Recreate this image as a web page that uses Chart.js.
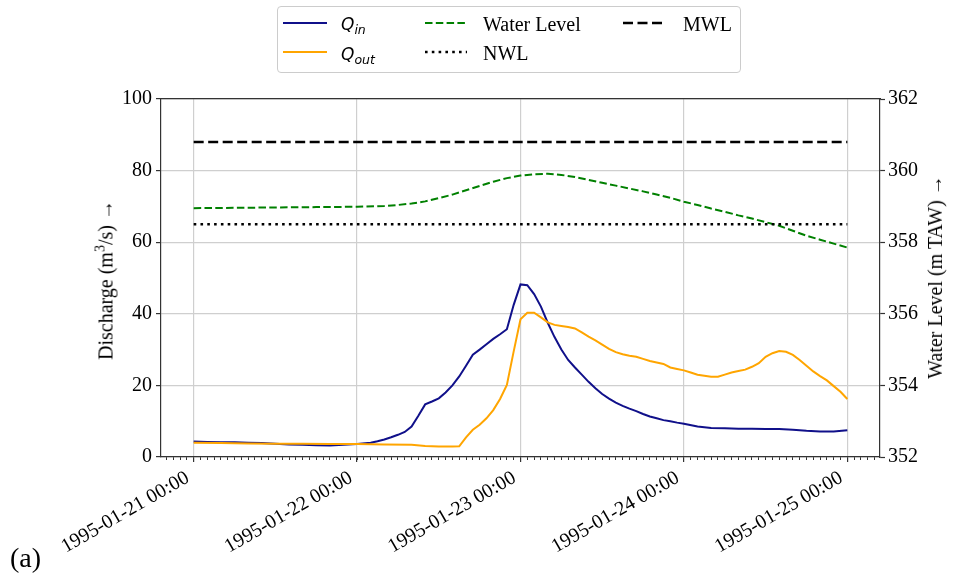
<!DOCTYPE html>
<html>
<head>
<meta charset="utf-8">
<title>Reservoir discharge and water level, 21–25 January 1995</title>
<script src="https://cdn.jsdelivr.net/npm/chart.js@4.4.1/dist/chart.umd.min.js"></script>
<style>
  html, body { margin: 0; padding: 0; background: #fff; }
  #wrap { position: relative; width: 954px; height: 577px; overflow: hidden;
          font-family: "Liberation Serif", "Times New Roman", serif; color: #000; }
  #chart { position: absolute; left: 0; top: 0; }
  .legend-box { position: absolute; left: 277px; top: 6px; width: 464px; height: 67px;
                box-sizing: border-box; border: 1px solid #cccccc; border-radius: 4px; background: rgba(255,255,255,0.8); }
  .lg-line { position: absolute; overflow: visible; }
  .lg-text { position: absolute; font-size: 20px; line-height: 24px; white-space: nowrap; }
  .q { font-family: "DejaVu Sans", sans-serif; font-style: italic; font-size: 17px; }
  .q sub { font-size: 12.5px; vertical-align: baseline; position: relative; top: 4px; }
  .axis-title { position: absolute; font-size: 20px; line-height: 24px; white-space: nowrap;
                transform: translate(-50%, -50%) rotate(-90deg); }
  .axis-title sup { font-size: 14px; vertical-align: baseline; position: relative; top: -8px; }
  .title-left { left: 107px; top: 280px; }
  .title-right { left: 935px; top: 277px; }
  .panel { position: absolute; left: 10px; top: 541px; font-size: 28px; line-height: 1.2; }
</style>
</head>
<body>
<div id="wrap">
  <canvas id="chart" width="954" height="577"></canvas>

  <div class="legend-box"></div>
  <svg class="lg-line" style="left:283px;top:20px" width="44" height="6"><line x1="0" y1="3" x2="44" y2="3" stroke="#10108a" stroke-width="2"/></svg>
  <div class="lg-text q" style="left:341px;top:12px">Q<sub>in</sub></div>
  <svg class="lg-line" style="left:283px;top:49px" width="44" height="6"><line x1="0" y1="3" x2="44" y2="3" stroke="#ffa500" stroke-width="2"/></svg>
  <div class="lg-text q" style="left:341px;top:42px">Q<sub>out</sub></div>

  <svg class="lg-line" style="left:425px;top:20px" width="42" height="6"><line x1="0" y1="3" x2="42" y2="3" stroke="#008000" stroke-width="2" stroke-dasharray="7.5 3.3"/></svg>
  <div class="lg-text" style="left:483px;top:12px">Water Level</div>
  <svg class="lg-line" style="left:425px;top:49px" width="42" height="6"><line x1="0" y1="3" x2="42" y2="3" stroke="#000" stroke-width="2.6" stroke-dasharray="2.6 4.2"/></svg>
  <div class="lg-text" style="left:483px;top:40.5px">NWL</div>

  <svg class="lg-line" style="left:623px;top:20px" width="40" height="6"><line x1="0" y1="3" x2="40" y2="3" stroke="#000" stroke-width="2.6" stroke-dasharray="10 4.5"/></svg>
  <div class="lg-text" style="left:683px;top:12px">MWL</div>

  <div class="axis-title title-left">Discharge (m<sup>3</sup>/s) →</div>
  <div class="axis-title title-right">Water Level (m TAW) →</div>
  <div class="panel">(a)</div>
</div>

<script>
// Hours since 1995-01-21 00:00 and inflow discharge (m³/s)
const qinHours = [0,2,4,6,8,10,12,14,16,18,20,22,24,26,27,28,29,30,31,32,33,34,35,36,37,38,39,40,41,42,43,44,45,46,47,48,49,50,51,52,53,54,55,56,57,58,59,60,61,62,63,64,65,66,67,68,69,70,71,72,74,76,78,80,82,84,86,88,90,92,94,96];
const qinValues = [4.3,4.2,4.1,4.1,4.0,3.9,3.7,3.5,3.4,3.3,3.2,3.4,3.6,4.0,4.4,4.9,5.5,6.2,7.0,8.5,11.5,14.7,15.5,16.4,18.0,20.0,22.5,25.5,28.6,30.0,31.5,33.0,34.3,35.7,42.5,48.2,48.0,45.5,42.0,37.5,33.5,30.0,27.1,25.0,23.0,21.0,19.2,17.6,16.3,15.2,14.3,13.5,12.8,12.0,11.3,10.8,10.3,10.0,9.6,9.3,8.5,8.1,8.0,7.9,7.9,7.8,7.8,7.6,7.3,7.1,7.1,7.5];

// Outflow discharge (m³/s)
const qoutHours = [0,4,8,12,16,20,24,28,32,34,36,38,39,40,41,42,43,44,45,46,47,48,49,50,51,52,53,54,55,56,57,58,59,60,61,62,63,64,65,66,67,68,69,70,71,72,73,74,75,76,77,78,79,80,81,82,83,84,85,86,87,88,89,90,91,92,93,94,95,96];
const qoutValues = [4.0,3.9,3.8,3.7,3.7,3.6,3.6,3.5,3.4,3.1,2.9,2.9,3.0,5.5,7.6,9.0,10.8,13.1,16.2,20.1,29.5,38.5,40.3,40.3,39.0,37.6,36.9,36.6,36.3,35.9,34.8,33.6,32.6,31.4,30.2,29.3,28.7,28.3,28.0,27.4,26.8,26.4,26.0,25.0,24.6,24.2,23.6,23.0,22.7,22.4,22.4,23.0,23.6,24.0,24.4,25.2,26.2,28.0,29.0,29.6,29.4,28.5,27.1,25.5,23.9,22.6,21.4,19.8,18.2,16.2];

// Reservoir water level (m TAW)
const wlHours = [0,6,12,18,24,28,30,32,34,36,38,40,42,44,46,48,50,52,54,56,58,60,62,64,66,68,70,72,74,76,78,80,82,84,86,88,90,92,94,96];
const wlValues = [358.95,358.96,358.97,358.98,358.99,359.01,359.04,359.08,359.14,359.23,359.33,359.45,359.57,359.69,359.79,359.86,359.90,359.91,359.88,359.82,359.74,359.66,359.58,359.50,359.42,359.33,359.24,359.13,359.04,358.94,358.85,358.75,358.66,358.56,358.46,358.32,358.18,358.07,357.96,357.85];

// Maximum and normal water levels (m TAW), drawn across the whole period
const mwlLevel = 360.8;
const nwlLevel = 358.5;
const periodHours = [0, 96];

// Axis ticks and labels
const xTickHours = [0, 24, 48, 72, 96];
const xTickLabels = ['1995-01-21 00:00', '1995-01-22 00:00', '1995-01-23 00:00', '1995-01-24 00:00', '1995-01-25 00:00'];
const xMinorHours = [];
for (let h = -4; h <= 100; h++) xMinorHours.push(h);
const dischargeTicks = [0, 20, 40, 60, 80, 100];
const levelTicks = [352, 354, 356, 358, 360, 362];

const zip = (xs, ys) => xs.map((x, i) => ({ x: x, y: ys[i] }));

const serif = { family: "'Liberation Serif', 'Times New Roman', serif", size: 20 };
const spine = '#333333';
const gridColor = '#cfcfcf';
const xMin = -4.8, xMax = 100.8;

new Chart(document.getElementById('chart'), {
  type: 'line',
  data: {
    datasets: [
      { label: 'Q_in', data: zip(qinHours, qinValues), yAxisID: 'y', xAxisID: 'x',
        borderColor: '#10108a', borderWidth: 2, order: 5 },
      { label: 'Q_out', data: zip(qoutHours, qoutValues), yAxisID: 'y', xAxisID: 'x',
        borderColor: '#ffa500', borderWidth: 2, order: 4 },
      { label: 'Water Level', data: zip(wlHours, wlValues), yAxisID: 'y2', xAxisID: 'x',
        borderColor: '#008000', borderWidth: 2, borderDash: [7.5, 3.3], order: 3 },
      { label: 'MWL', data: zip(periodHours, periodHours.map(() => mwlLevel)), yAxisID: 'y2', xAxisID: 'x',
        borderColor: '#000', borderWidth: 2.6, borderDash: [10, 4.5], order: 2 },
      { label: 'NWL', data: zip(periodHours, periodHours.map(() => nwlLevel)), yAxisID: 'y2', xAxisID: 'x',
        borderColor: '#000', borderWidth: 2.6, borderDash: [2.6, 4.2], order: 1 }
    ]
  },
  options: {
    responsive: false,
    animation: false,
    devicePixelRatio: 1,
    elements: { point: { radius: 0 }, line: { tension: 0, fill: false, borderCapStyle: 'butt' } },
    layout: { padding: { top: 99, left: 0, right: 0, bottom: 0 } },
    plugins: { legend: { display: false }, tooltip: { enabled: false } },
    scales: {
      x: {
        type: 'linear', position: 'bottom', min: xMin, max: xMax, weight: 1,
        afterBuildTicks: s => { s.ticks = xTickHours.map(v => ({ value: v })); },
        afterFit: s => { s.height = 120; },
        ticks: {
          autoSkip: false, minRotation: 30, maxRotation: 30, labelOffset: -6, padding: 4,
          font: serif, color: '#000',
          callback: v => { const i = xTickHours.indexOf(v); return i >= 0 ? xTickLabels[i] : ''; }
        },
        grid: { color: gridColor, lineWidth: 1.2, drawTicks: true, tickLength: 5, tickColor: spine, tickWidth: 1.2 },
        border: { display: true, color: spine, width: 1.2 }
      },
      xMinor: {
        type: 'linear', position: 'bottom', min: xMin, max: xMax, weight: 0,
        afterBuildTicks: s => { s.ticks = xMinorHours.map(v => ({ value: v })); },
        afterFit: s => { s.height = 0; },
        ticks: { display: false },
        grid: { drawOnChartArea: false, drawTicks: true, tickLength: 3, tickColor: spine, tickWidth: 1 },
        border: { display: false }
      },
      xTop: {
        type: 'linear', position: 'top', min: xMin, max: xMax,
        afterFit: s => { s.height = 0; },
        ticks: { display: false },
        grid: { display: false, drawTicks: false },
        border: { display: true, color: spine, width: 1.2 }
      },
      y: {
        type: 'linear', position: 'left', min: 0, max: 100,
        afterBuildTicks: s => { s.ticks = dischargeTicks.map(v => ({ value: v })); },
        afterFit: s => { s.width = 161; },
        ticks: { font: serif, color: '#000', padding: 4 },
        grid: { color: gridColor, lineWidth: 1.2, tickLength: 5, tickColor: spine, tickWidth: 1.2 },
        border: { color: spine, width: 1.2 }
      },
      y2: {
        type: 'linear', position: 'right', min: 352, max: 362,
        afterBuildTicks: s => { s.ticks = levelTicks.map(v => ({ value: v })); },
        afterFit: s => { s.width = 74; },
        ticks: { font: serif, color: '#000', padding: 3 },
        grid: { drawOnChartArea: false, tickLength: 5, tickColor: spine, tickWidth: 1.2 },
        border: { color: spine, width: 1.2 }
      }
    }
  }
});
</script>
</body>
</html>
